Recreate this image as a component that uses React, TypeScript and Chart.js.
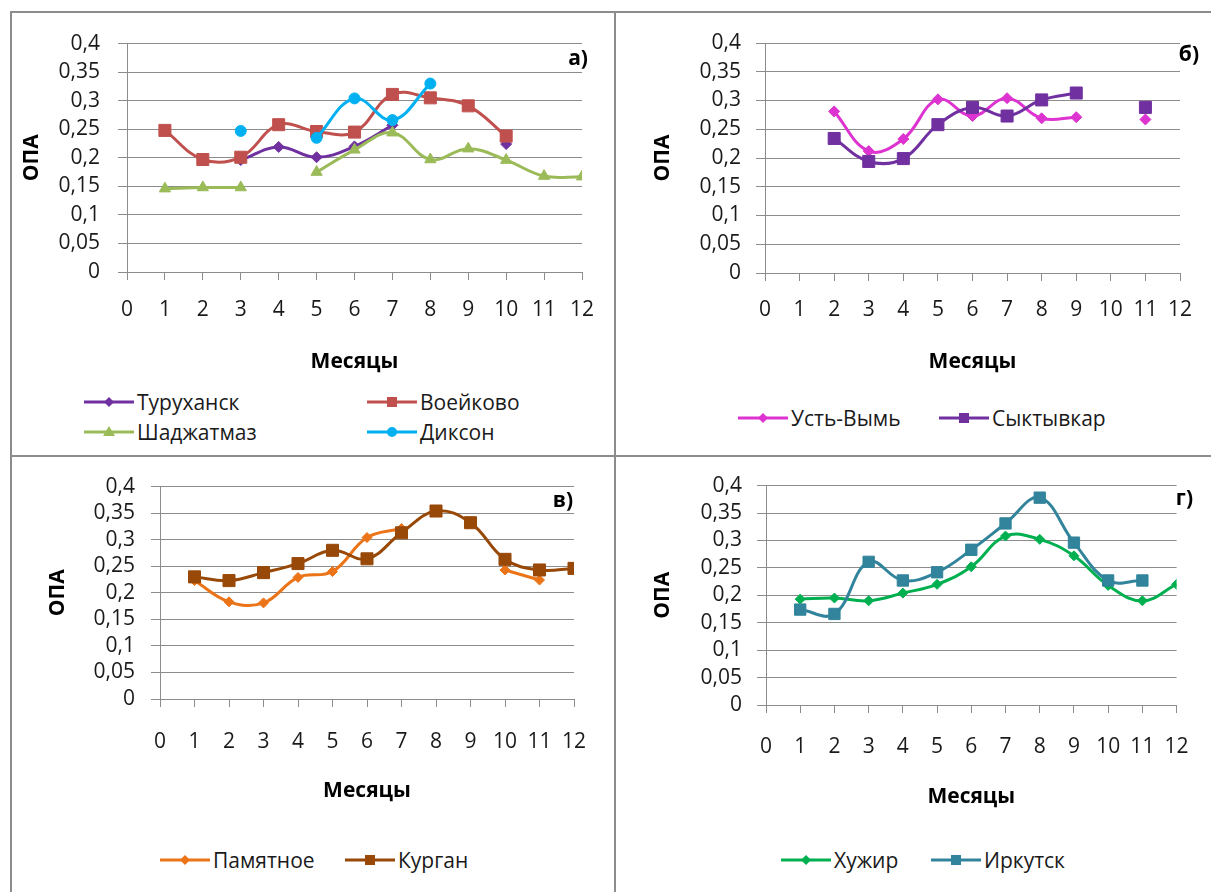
import React, { useEffect, useRef } from "react";
import { Chart, registerables } from "chart.js";

Chart.register(...registerables);

const FONT = "'Open Sans', 'Noto Sans', sans-serif";
const GRID = "#8c8c8c";
const TEXT = "#1a1a1a";

// ---- shared axes ----
const months = [1, 2, 3, 4, 5, 6, 7, 8, 9, 10, 11, 12];
const xMin = 0;
const xMax = 12;
const xStep = 1;
const yMin = 0;
const yMax = 0.4;
const yStep = 0.05;
const xTitle = "Месяцы";
const yTitle = "ОПА";

// ---- panel а) ----
const turukhansk = [null, null, 0.196, 0.219, 0.201, 0.22, 0.257, null, null, 0.224, null, null];
const voeikovo = [0.248, 0.197, 0.201, 0.258, 0.246, 0.245, 0.311, 0.305, 0.291, 0.238, null, null];
const shadzhatmaz = [0.146, 0.148, 0.148, null, 0.175, 0.214, 0.244, 0.197, 0.216, 0.196, 0.168, 0.167];
const dikson = [null, null, 0.247, null, 0.235, 0.304, 0.266, 0.33, null, null, null, null];

// ---- panel б) ----
const ustVym = [null, 0.281, 0.212, 0.233, 0.302, 0.273, 0.304, 0.269, 0.271, null, 0.267, null];
const syktyvkar = [null, 0.234, 0.194, 0.199, 0.258, 0.288, 0.273, 0.301, 0.313, null, 0.288, null];

// ---- panel в) ----
const pamyatnoe = [0.223, 0.183, 0.181, 0.229, 0.24, 0.304, 0.321, null, null, 0.243, 0.224, null];
const kurgan = [0.23, 0.223, 0.238, 0.255, 0.28, 0.264, 0.313, 0.354, 0.332, 0.263, 0.243, 0.246];

// ---- panel г) ----
const khuzhir = [0.193, 0.195, 0.19, 0.204, 0.22, 0.252, 0.308, 0.302, 0.272, 0.218, 0.19, 0.22];
const irkutsk = [0.174, 0.166, 0.261, 0.227, 0.242, 0.283, 0.331, 0.378, 0.296, 0.227, 0.227, null];

type Series = { name: string; values: (number | null)[]; color: string; marker: string; radius: number };

const seriesA: Series[] = [
  { name: "Туруханск", values: turukhansk, color: "#7030A0", marker: "rectRot", radius: 5.5 },
  { name: "Воейково", values: voeikovo, color: "#C0504D", marker: "rect", radius: 8.5 },
  { name: "Шаджатмаз", values: shadzhatmaz, color: "#9BBB59", marker: "triangle", radius: 6.5 },
  { name: "Диксон", values: dikson, color: "#00B0F0", marker: "circle", radius: 5.5 },
];
const seriesB: Series[] = [
  { name: "Усть-Вымь", values: ustVym, color: "#DD33D0", marker: "rectRot", radius: 5.5 },
  { name: "Сыктывкар", values: syktyvkar, color: "#7030A0", marker: "rect", radius: 8.5 },
];
const seriesC: Series[] = [
  { name: "Памятное", values: pamyatnoe, color: "#EC7418", marker: "rectRot", radius: 5 },
  { name: "Курган", values: kurgan, color: "#984807", marker: "rect", radius: 8.5 },
];
const seriesD: Series[] = [
  { name: "Хужир", values: khuzhir, color: "#00B050", marker: "rectRot", radius: 5 },
  { name: "Иркутск", values: irkutsk, color: "#31849B", marker: "rect", radius: 8 },
];

type Geom = {
  left: number; top: number; width: number;
  plotL: number; plotT: number; plotR: number; plotB: number;
  xTickY: number; xTitleY: number; yTitleX: number; yLabelRight: number;
  label: string; labelRight: number; labelY: number;
  legend: { x: number; y: number }[];
};

const geoms: Geom[] = [
  { left: 12, top: 13, width: 602, plotL: 127, plotT: 43, plotR: 582, plotB: 272, xTickY: 310, xTitleY: 362, yTitleX: 32, yLabelRight: 100,
    label: "а)", labelRight: 588, labelY: 57,
    legend: [{ x: 84, y: 402 }, { x: 367, y: 402 }, { x: 84, y: 432 }, { x: 367, y: 432 }] },
  { left: 617, top: 13, width: 593, plotL: 765, plotT: 43, plotR: 1180, plotB: 273, xTickY: 310, xTitleY: 362, yTitleX: 663, yLabelRight: 741,
    label: "б)", labelRight: 1199, labelY: 53,
    legend: [{ x: 738, y: 418 }, { x: 939, y: 418 }] },
  { left: 12, top: 458, width: 602, plotL: 160, plotT: 482, plotR: 574, plotB: 699, xTickY: 742, xTitleY: 791, yTitleX: 58, yLabelRight: 135,
    label: "в)", labelRight: 573, labelY: 499,
    legend: [{ x: 160, y: 860 }, { x: 345, y: 860 }] },
  { left: 617, top: 458, width: 593, plotL: 766, plotT: 484, plotR: 1181, plotB: 705, xTickY: 747, xTitleY: 797, yTitleX: 663, yLabelRight: 742,
    label: "г)", labelRight: 1193, labelY: 497,
    legend: [{ x: 781, y: 860 }, { x: 931, y: 860 }] },
];

const FS = 21;
const HALF_LH = (FS * 1.2) / 2;
const X_TICK_LEN = 8;
const Y_TICK_LEN = 9;

function fmt(v: number) {
  return String(Math.round(v * 100) / 100).replace(".", ",");
}

function Panel({ series, g }: { series: Series[]; g: Geom }) {
  const ref = useRef<HTMLCanvasElement>(null);
  const canvasH = g.xTitleY + 22 - g.top;
  useEffect(() => {
    const xAxisH = canvasH - (g.plotB - g.top);
    const yAxisW = g.plotL - g.left;
    const chart = new Chart(ref.current as HTMLCanvasElement, {
      type: "line",
      data: {
        datasets: series.map((s, i) => ({
          label: s.name,
          data: months.map((m, j) => ({ x: m, y: s.values[j] })),
          borderColor: s.color,
          backgroundColor: s.color,
          pointBackgroundColor: s.color,
          pointBorderColor: s.color,
          pointStyle: s.marker as any,
          pointRadius: s.radius,
          pointBorderWidth: 1,
          borderWidth: 3,
          tension: 0.4,
          spanGaps: false,
          order: series.length - i,
        })),
      },
      options: {
        responsive: false,
        animation: false,
        layout: { padding: { top: g.plotT - g.top, right: g.left + g.width - g.plotR, left: 0, bottom: 0 } },
        plugins: { legend: { display: false }, tooltip: { enabled: false } },
        scales: {
          x: {
            type: "linear",
            min: xMin,
            max: xMax,
            ticks: { stepSize: xStep, padding: g.xTickY - g.plotB - X_TICK_LEN - HALF_LH, font: { family: FONT, size: FS }, color: TEXT, maxRotation: 0, autoSkip: false },
            grid: { drawOnChartArea: false, drawTicks: true, tickLength: X_TICK_LEN, color: GRID, lineWidth: 1 },
            border: { color: GRID, width: 1 },
            title: { display: true, text: xTitle, color: "#000", font: { family: FONT, size: FS, weight: "bold" }, padding: { top: 0, bottom: canvasH + g.top - g.xTitleY - HALF_LH } },
            afterFit: (s: any) => { s.height = xAxisH; },
          },
          y: {
            type: "linear",
            min: yMin,
            max: yMax,
            ticks: { stepSize: yStep, autoSkip: false, padding: g.plotL - g.yLabelRight - Y_TICK_LEN, font: { family: FONT, size: FS }, color: TEXT, callback: (v: any) => fmt(Number(v)) },
            grid: { color: GRID, lineWidth: 1, tickLength: Y_TICK_LEN },
            border: { color: GRID, width: 1 },
            title: { display: true, text: yTitle, color: "#000", font: { family: FONT, size: FS, weight: "bold" }, padding: { top: g.yTitleX - g.left - HALF_LH, bottom: 0 } },
            afterFit: (s: any) => { s.width = yAxisW; },
          },
        },
      } as any,
    });
    return () => chart.destroy();
  }, []);
  return (
    <canvas
      ref={ref}
      width={g.width}
      height={canvasH}
      style={{ position: "absolute", left: g.left, top: g.top, width: g.width, height: canvasH }}
    />
  );
}

function LegendIcon({ s }: { s: Series }) {
  const c = s.color;
  const cx = 25, cy = 8;
  let mark: any = null;
  if (s.marker === "rectRot") mark = <polygon points={`${cx},${cy - 5} ${cx + 5},${cy} ${cx},${cy + 5} ${cx - 5},${cy}`} fill={c} />;
  else if (s.marker === "rect") mark = <rect x={cx - 5} y={cy - 5} width={10} height={10} fill={c} />;
  else if (s.marker === "triangle") mark = <polygon points={`${cx},${cy - 6} ${cx + 6},${cy + 4} ${cx - 6},${cy + 4}`} fill={c} />;
  else mark = <circle cx={cx} cy={cy} r={5} fill={c} />;
  return (
    <svg width={50} height={16} style={{ display: "block" }}>
      <line x1={0} y1={cy} x2={50} y2={cy} stroke={c} strokeWidth={3} />
      {mark}
    </svg>
  );
}

function Legend({ series, g }: { series: Series[]; g: Geom }) {
  return (
    <>
      {series.map((s, i) => (
        <div
          key={s.name}
          style={{ position: "absolute", left: g.legend[i].x, top: g.legend[i].y - 15, height: 30, display: "flex", alignItems: "center", gap: 3, fontFamily: FONT, fontSize: FS, color: TEXT, whiteSpace: "nowrap" }}
        >
          <LegendIcon s={s} />
          <span style={{ lineHeight: "30px" }}>{s.name}</span>
        </div>
      ))}
    </>
  );
}

function PanelLabel({ g }: { g: Geom }) {
  return (
    <div style={{ position: "absolute", left: g.labelRight - 60, width: 60, top: g.labelY - 15, height: 30, lineHeight: "30px", textAlign: "right", fontFamily: FONT, fontSize: 21, fontWeight: "bold", color: "#000" }}>
      {g.label}
    </div>
  );
}

const allSeries = [seriesA, seriesB, seriesC, seriesD];

export default function App() {
  const line = (style: any) => <div style={{ position: "absolute", background: GRID, ...style }} />;
  return (
    <div style={{ position: "absolute", left: 0, top: 0, width: 1211, height: 892, background: "#fff", overflow: "hidden" }}>
      {allSeries.map((s, i) => (
        <React.Fragment key={i}>
          <Panel series={s} g={geoms[i]} />
          <Legend series={s} g={geoms[i]} />
          <PanelLabel g={geoms[i]} />
        </React.Fragment>
      ))}
      {line({ left: 10, top: 11, width: 1201, height: 2 })}
      {line({ left: 10, top: 11, width: 2, height: 881 })}
      {line({ left: 614, top: 11, width: 2, height: 881 })}
      {line({ left: 10, top: 455, width: 1201, height: 2 })}
    </div>
  );
}
